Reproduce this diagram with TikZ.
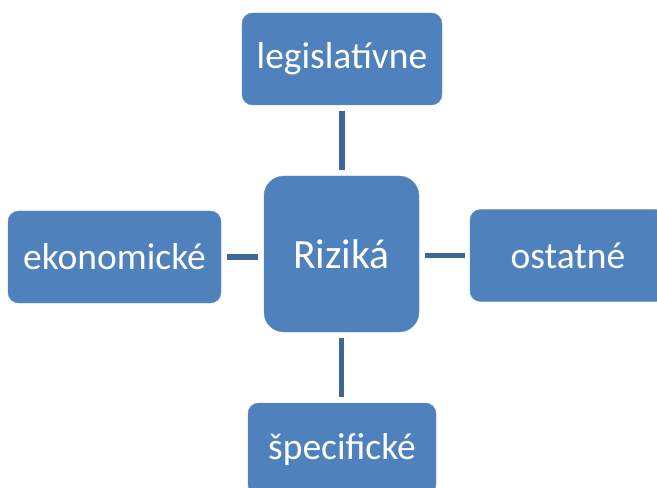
\documentclass[tikz,border=0pt]{standalone}
\usepackage{fontspec}
\setmainfont{Carlito}
\usetikzlibrary{positioning,calc}
\definecolor{boxblue}{HTML}{4F81BD}
\definecolor{boxedge}{HTML}{6A94C8}
\definecolor{linkcol}{HTML}{3E6697}
\tikzset{
  riskbox/.style={rounded corners=9pt, draw=boxedge, fill=boxblue, line width=0.4pt,
                  text=white, inner sep=0pt, align=center, font=\fontsize{32}{36}\selectfont},
  hubbox/.style={riskbox, rounded corners=17pt, font=\fontsize{35.5}{40}\selectfont},
  link/.style={linkcol, line width=4.3pt, shorten <=4.5pt, shorten >=4.5pt},
}
\begin{document}
\begin{tikzpicture}[x=0.03cm, y=-0.03cm]

% ===================== FRAME =====================
\useasboundingbox (0,0) rectangle (657,488);
\clip (0,0) rectangle (657,488);

% ---- hub ----
\node[hubbox, minimum width=155*0.03cm, minimum height=156*0.03cm] (riziko) at (341.5,254) {Riziká};

% ---- four kinds of risk ----
\node[riskbox, minimum width=200*0.03cm, minimum height=92*0.03cm] (legis) at (342,59) {legislatívne};
\node[riskbox, minimum width=213*0.03cm, minimum height=92*0.03cm] (ekon) at (114.5,257) {ekonomické};
\node[riskbox, minimum width=196*0.03cm, minimum height=92*0.03cm] (ostat) at (568,255.5) {ostatné};
\node[riskbox, minimum width=188*0.03cm, minimum height=92*0.03cm] (specif) at (342,449) {špecifické};

% ---- connectors ----
\draw[link] (legis.south) -- (legis.south |- riziko.north);
\draw[link] (riziko.south) -- (riziko.south |- specif.north);
\draw[link] (ekon.east) -- (ekon.east -| riziko.west);
\draw[link] (riziko.east |- ostat.west) -- (ostat.west);

\end{tikzpicture}
\end{document}
